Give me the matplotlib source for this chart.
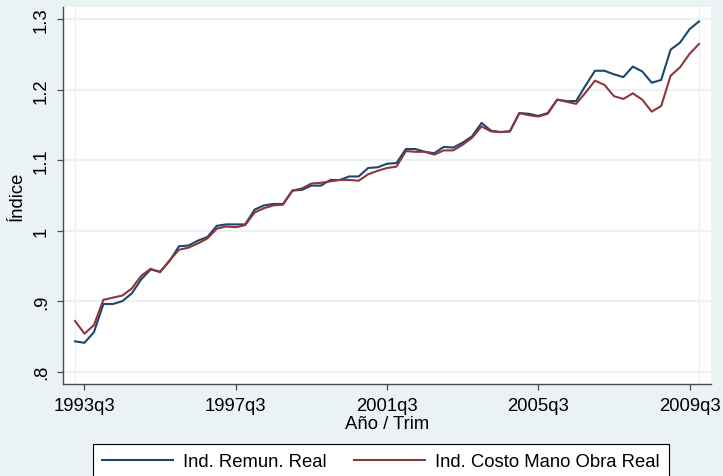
import matplotlib
matplotlib.use("Agg")
import matplotlib.pyplot as plt
import pandas as pd

# ---- data ----
start_quarter = "1993Q2"
remun_real = [0.843, 0.841, 0.856, 0.896, 0.896, 0.900, 0.911, 0.931, 0.945, 0.942,
              0.957, 0.978, 0.979, 0.986, 0.991, 1.007, 1.009, 1.009, 1.009, 1.030,
              1.036, 1.038, 1.038, 1.057, 1.058, 1.064, 1.064, 1.072, 1.072, 1.077,
              1.077, 1.089, 1.090, 1.095, 1.096, 1.116, 1.116, 1.112, 1.110, 1.119,
              1.118, 1.125, 1.134, 1.153, 1.142, 1.140, 1.141, 1.167, 1.166, 1.163,
              1.167, 1.186, 1.184, 1.184, 1.206, 1.227, 1.227, 1.222, 1.218, 1.233,
              1.226, 1.210, 1.214, 1.257, 1.267, 1.286, 1.297]
costo_real = [0.872, 0.854, 0.866, 0.902, 0.905, 0.908, 0.918, 0.936, 0.946, 0.941,
              0.958, 0.973, 0.976, 0.982, 0.989, 1.003, 1.006, 1.005, 1.008, 1.026,
              1.032, 1.036, 1.037, 1.057, 1.060, 1.067, 1.068, 1.070, 1.072, 1.072,
              1.071, 1.080, 1.085, 1.089, 1.091, 1.113, 1.112, 1.112, 1.108, 1.114,
              1.114, 1.122, 1.132, 1.148, 1.141, 1.140, 1.141, 1.167, 1.164, 1.162,
              1.166, 1.186, 1.183, 1.180, 1.196, 1.213, 1.207, 1.191, 1.187, 1.195,
              1.186, 1.169, 1.177, 1.220, 1.232, 1.251, 1.265]
series_labels = ["Ind. Remun. Real", "Ind. Costo Mano Obra Real"]
x_tick_quarters = ["1993Q3", "1997Q3", "2001Q3", "2005Q3", "2009Q3"]
x_tick_labels = ["1993q3", "1997q3", "2001q3", "2005q3", "2009q3"]
y_ticks = [0.8, 0.9, 1.0, 1.1, 1.2, 1.3]
y_tick_labels = [".8", ".9", "1", "1.1", "1.2", "1.3"]

# ---- style ----
BG = "#EAF2F3"
NAVY = "#1A476F"
MAROON = "#90353B"
plt.rcParams["font.family"] = ["Liberation Sans", "DejaVu Sans"]
FS = 13.3

periods = pd.period_range(start_quarter, periods=len(remun_real), freq="Q")
x = [p.ordinal for p in periods]
x_ticks = [pd.Period(q, freq="Q").ordinal for q in x_tick_quarters]

W, H = 723, 477
fig = plt.figure(figsize=(W / 100, H / 100), dpi=100, facecolor=BG)
ax = fig.add_axes([63 / W, 1 - 385 / H, (711 - 63) / W, (385 - 8) / H])
ax.set_facecolor("white")

for yv in y_ticks:
    ax.axhline(yv, color=BG, lw=1.6, zorder=1)
ax.axvline(x[0], color=BG, lw=1.0, zorder=1)
ax.axvline(x[-1], color=BG, lw=1.0, zorder=1)

ax.plot(x, remun_real, color=NAVY, lw=1.5, label=series_labels[0], zorder=3)
ax.plot(x, costo_real, color=MAROON, lw=1.5, label=series_labels[1], zorder=4)

dx = 1.27
ax.set_xlim(x[0] - dx, x[-1] + dx)
ax.set_ylim(0.7825, 1.3175)

ax.set_xticks(x_ticks)
ax.set_xticklabels(x_tick_labels, fontsize=FS)
ax.set_yticks(y_ticks)
ax.set_yticklabels(y_tick_labels, fontsize=FS, rotation=90, va="center")

for s in ["top", "right"]:
    ax.spines[s].set_visible(False)
for s in ["left", "bottom"]:
    ax.spines[s].set_color("#4a4a4a")
    ax.spines[s].set_linewidth(1.0)
ax.tick_params(axis="both", direction="out", length=4.3, width=0.9, color="#4a4a4a")
ax.tick_params(axis="x", pad=5)
ax.tick_params(axis="y", pad=5)

ax.set_xlabel("Año / Trim", fontsize=FS)
ax.xaxis.label.set_va("center")
ax.xaxis.set_label_coords(0.5, (385 - 425) / 377)
ax.set_ylabel("Índice", fontsize=FS)
ax.yaxis.label.set_va("center")
ax.yaxis.set_label_coords((17 - 63) / 648, 0.5)

leg = fig.legend(loc="upper left", bbox_to_anchor=(93 / W, 1 - 445 / H),
                 bbox_transform=fig.transFigure, ncol=2, fontsize=FS,
                 frameon=True, fancybox=False, shadow=False, framealpha=1,
                 edgecolor="black", facecolor="white", borderaxespad=0,
                 borderpad=0.5, handlelength=3.84, handletextpad=0.54,
                 columnspacing=1.5)
leg.get_frame().set_linewidth(0.8)

fig.savefig("out.png", dpi=100, facecolor=BG)
